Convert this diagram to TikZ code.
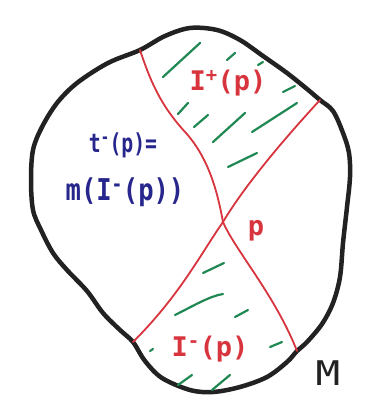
\documentclass[tikz,border=0pt]{standalone}
\usepackage{fontspec}
\setmainfont{DejaVu Sans Mono}
\definecolor{inkred}{RGB}{216,52,62}
\definecolor{inkgreen}{RGB}{32,136,82}
\definecolor{inkblue}{RGB}{38,38,140}
\definecolor{inkblack}{RGB}{34,34,34}
\begin{document}
\begin{tikzpicture}[x=1pt,y=-1pt,
  outline/.style={line width=4.5pt, draw=inkblack, line join=round},
  cone/.style={line width=1.8pt, draw=inkred, line cap=round},
  hatch/.style={line width=2.2pt, draw=inkgreen, line cap=round},
  redlabel/.style={text=inkred, inner sep=0pt, font=\bfseries\fontsize{27}{27}\selectfont},
  bluelabel/.style={text=inkblue, inner sep=0pt},
  blacklabel/.style={text=inkblack, inner sep=0pt, font=\fontsize{34}{34}\selectfont}]
\fill[white] (0,0) rectangle (379,419);
\useasboundingbox (0,0) rectangle (379,419);
% boundary points
\coordinate (tl) at (140,50);
\coordinate (tr) at (320,100);
\coordinate (br) at (297,351);
\coordinate (bl) at (133,342);
\coordinate (p) at (223,222);
% manifold outline
\draw[outline] plot[smooth cycle, tension=0.55] coordinates {
 (tl) (165,36) (190,28) (217,30) (240,40) (263,56) (287,73) (307,89) (tr)
 (333,111) (343,133) (349,153) (350,177) (347,207) (343,243) (340,277)
 (333,303) (322,324) (307,342) (br) (287,362) (267,377) (240,387) (213,392)
 (190,390) (162,378) (145,361) (bl) (120,330) (103,313) (87,291) (67,270)
 (53,253) (41,230) (33,210) (31,180) (33,150) (42,127) (57,103) (77,83) (108,63)};
% light cone boundaries
\draw[cone] (tl) .. controls (150,80) and (160,105) .. (186,133)
                 .. controls (210,160) and (218,195) .. (p)
                 .. controls (235,250) and (275,295) .. (br);
\draw[cone] (tr) .. controls (285,138) and (245,185) .. (p)
                 .. controls (200,255) and (180,295) .. (bl);
% hatching
\foreach \a/\b in {
 {(163,77)}/{(200,43)}, {(227,60)}/{(235,53)}, {(258,65)}/{(263,62)},
 {(283,92)}/{(295,86)}, {(178,114)}/{(188,103)}, {(194,127)}/{(208,115)},
 {(213,142)}/{(245,113)}, {(252,132)}/{(297,103)}, {(228,167)}/{(257,153)},
 {(203,273)}/{(224,263)}, {(235,317)}/{(248,310)}, {(150,351)}/{(153,349)},
 {(270,347)}/{(282,342)}, {(178,385)}/{(192,375)}, {(212,390)}/{(230,375)}}
 \draw[hatch] \a -- \b;
\draw[hatch] (175,315) .. controls (195,305) and (210,296) .. (223,294);
% labels
\node[redlabel] (Iplus) at (228,83) {I\textsuperscript{+}(p)};
\node[redlabel] (plab) at (256,231) {p};
\node[redlabel] (Iminus) at (210,349) {I\textsuperscript{-}(p)};
\node[bluelabel, xscale=0.76, font=\bfseries\fontsize{26}{26}\selectfont] (tline) at (123,145) {t\textsuperscript{-}(p)=};
\node[bluelabel, xscale=0.85, font=\bfseries\fontsize{30}{30}\selectfont] (mline) at (125,192) {m(I\textsuperscript{-}(p))};
\node[blacklabel, xscale=1.2] (M) at (328,373) {M};
\end{tikzpicture}
\end{document}
